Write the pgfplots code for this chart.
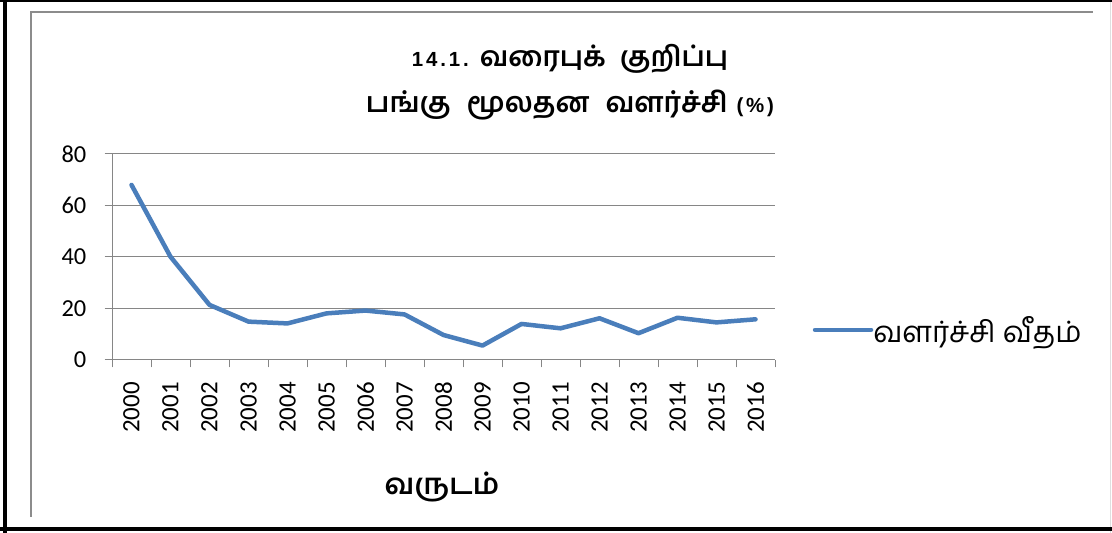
\documentclass[border=0pt]{standalone}
\usepackage{fontspec}
\setmainfont{Carlito}
\newfontfamily\tamil[Script=Tamil]{Hind Madurai}
\newfontfamily\arialsp[LetterSpace=14]{Liberation Sans}
\usepackage{pgfplots}
\pgfplotsset{compat=1.18}
\definecolor{serblue}{HTML}{4A7EBB}
\definecolor{gridgray}{HTML}{868686}
\definecolor{framegray}{HTML}{8C8C8C}

\begin{document}
\begin{tikzpicture}[x=1bp,y=1bp]
\useasboundingbox (0,0) rectangle (1112,533);
\fill[white] (0,0) rectangle (1112,533);
% inner gray frame (partly visible)
\draw[framegray, line width=2.6bp] (31,16) -- (31,520.8) -- (1093,520.8);
\draw[gray!25, line width=1.5bp] (1110.5,0) -- (1110.5,533);
% black outer border
\draw[black, line width=4bp] (5,0) -- (5,533);
\draw[black, line width=2.6bp] (0,531.9) -- (1112,531.9);
\draw[black, line width=4.4bp] (0,4.2) -- (1112,4.2);

\begin{axis}[
  at={(112bp,173bp)}, anchor=south west,
  scale only axis, width=663bp, height=206bp,
  xmin=-0.5, xmax=16.5, ymin=0, ymax=80,
  axis x line*=bottom, axis y line*=left,
  axis line style={-, draw=gridgray, line width=1bp},
  ytick={0,20,40,60,80},
  /pgf/number format/assume math mode=true,
  xtick={-0.5,0.5,...,16.5}, xticklabels={},
  extra x ticks={0,1,...,16},
  extra x tick labels={2000,2001,2002,2003,2004,2005,2006,2007,2008,2009,2010,2011,2012,2013,2014,2015,2016},
  extra x tick style={major tick length=0pt, grid=none},
  tick align=outside, major tick length=7.5bp,
  tick style={draw=gridgray, line width=1bp},
  ymajorgrids, major grid style={draw=gridgray, line width=1bp},
  yticklabel style={font=\fontsize{24.5}{24.5}\selectfont, anchor=east, inner sep=0pt, xshift=-18bp},
  xticklabel style={font=\fontsize{25}{25}\selectfont, rotate=90, anchor=east, inner sep=0pt, xshift=-22bp},
  legend style={at={(1.057,0.146)}, anchor=west, draw=none, fill=none, inner sep=0pt, outer sep=0pt,
    nodes={inner sep=0pt}, column sep=0bp, font=\tamil\fontsize{29.5}{29.5}\selectfont},
  legend image code/.code={\draw[#1] (0bp,0bp) -- (56bp,0bp);},
  clip=false,
]
\addplot[serblue, line width=4.5bp, line cap=round, line join=round] coordinates {
(0,68.0) (1,40.1) (2,21.4) (3,14.9) (4,14.2) (5,18.1) (6,19.2) (7,17.7) (8,9.7)
(9,5.6) (10,14.0) (11,12.3) (12,16.2) (13,10.4) (14,16.4) (15,14.6) (16,15.8)};
\addlegendentry{வளர்ச்சி வீதம்}
\end{axis}

% title
\node[anchor=base, inner sep=0pt] at (570,466.3) {{\arialsp\bfseries\fontsize{20.5}{20.5}\selectfont 14.1.}\hspace{11bp}{\tamil\bfseries\fontsize{27.8}{27.8}\selectfont வரைபுக்\hspace{14bp}குறிப்பு}};
\node[anchor=base, inner sep=0pt] at (570,420) {{\tamil\bfseries\fontsize{28.2}{28.2}\selectfont பங்கு\hspace{16bp}மூலதன\hspace{16bp}வளர்ச்சி}\hspace{9bp}{\arialsp\bfseries\fontsize{20.5}{20.5}\selectfont (\%)}};
% x axis title
\node[anchor=base, inner sep=0pt] at (442,38) {\tamil\bfseries\fontsize{29}{29}\selectfont வருடம்};
\end{tikzpicture}
\end{document}
